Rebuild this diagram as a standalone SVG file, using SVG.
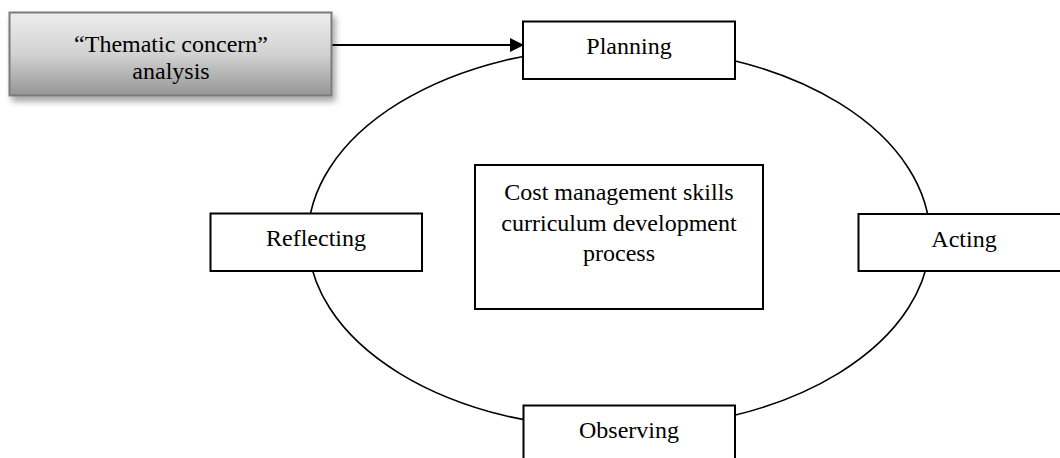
<svg xmlns="http://www.w3.org/2000/svg" width="1060" height="458" viewBox="0 0 1060 458">
  <style>
    .box { fill: #ffffff; stroke: #000000; stroke-width: 2; }
    .lbl { font-family: "Liberation Serif", "Times New Roman", serif; font-size: 24px; fill: #000000; text-anchor: middle; }
    .conn { fill: none; stroke: #000000; }
  </style>
  <defs>
    <linearGradient id="grad" x1="0" y1="0" x2="0" y2="1">
      <stop offset="0" stop-color="#ededed"/>
      <stop offset="0.5" stop-color="#d2d2d2"/>
      <stop offset="1" stop-color="#959595"/>
    </linearGradient>
    <filter id="shadow" x="-10%" y="-20%" width="130%" height="160%">
      <feDropShadow dx="3" dy="5" stdDeviation="3" flood-color="#000000" flood-opacity="0.35"/>
    </filter>
    <marker id="arrow" markerWidth="14" markerHeight="14" refX="13" refY="7" orient="auto" markerUnits="userSpaceOnUse">
      <path d="M0,0 L14,7 L0,14 Z" fill="#000000"/>
    </marker>
  </defs>

  <g id="connectors">
    <ellipse class="conn" cx="619" cy="238" rx="311" ry="191" stroke-width="1.6"/>
    <line class="conn" x1="332" y1="45" x2="523" y2="45" stroke-width="2.2" marker-end="url(#arrow)"/>
  </g>

  <g id="thematic">
    <rect x="9.5" y="12.5" width="322" height="83" fill="url(#grad)" stroke="#7a7a7a" stroke-width="2" filter="url(#shadow)"/>
    <text class="lbl" x="171" y="52">“Thematic concern”</text>
    <text class="lbl" x="171" y="79">analysis</text>
  </g>

  <g id="planning">
    <rect class="box" x="523" y="21.5" width="212" height="57.5"/>
    <text class="lbl" x="629" y="54">Planning</text>
  </g>

  <g id="reflecting">
    <rect class="box" x="210.5" y="213.5" width="211.5" height="57.5"/>
    <text class="lbl" x="316" y="246">Reflecting</text>
  </g>

  <g id="acting">
    <rect class="box" x="858.5" y="214" width="212" height="57"/>
    <text class="lbl" x="964" y="246.5">Acting</text>
  </g>

  <g id="observing">
    <rect class="box" x="523.5" y="405.5" width="211.5" height="57.5"/>
    <text class="lbl" x="629" y="437.5">Observing</text>
  </g>

  <g id="center">
    <rect class="box" x="475" y="165" width="288" height="144"/>
    <text class="lbl" x="619" y="200">Cost management skills</text>
    <text class="lbl" x="619" y="231">curriculum development</text>
    <text class="lbl" x="619" y="261">process</text>
  </g>
</svg>
